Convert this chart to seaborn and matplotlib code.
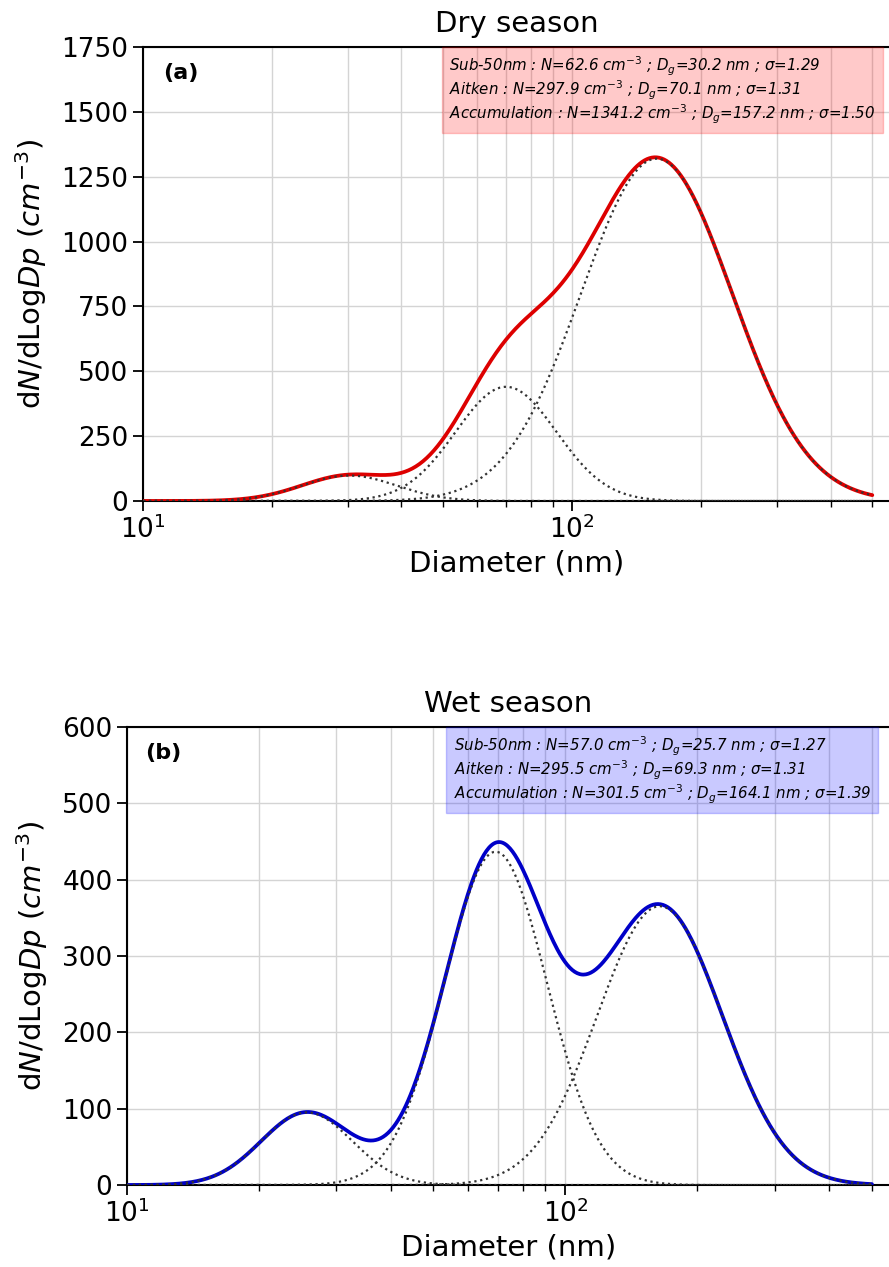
import numpy as np
import matplotlib
matplotlib.use("Agg")
import matplotlib.pyplot as plt
import seaborn as sns

# lognormal mode parameters
MODES = ["Sub-50nm", "Aitken", "Accumulation"]
DRY_N = [62.6, 297.9, 1341.2]
DRY_DG = [30.2, 70.1, 157.2]
DRY_SIGMA = [1.29, 1.31, 1.50]
WET_N = [57.0, 295.5, 301.5]
WET_DG = [25.7, 69.3, 164.1]
WET_SIGMA = [1.27, 1.31, 1.39]

DP_MIN, DP_MAX = 10, 500
DRY_YTICKS = [0, 250, 500, 750, 1000, 1250, 1500, 1750]
WET_YTICKS = [0, 100, 200, 300, 400, 500, 600]


def lognormal(dp, n, dg, sigma):
    ls = np.log(sigma)
    return n / (np.sqrt(2 * np.pi) * ls) * np.exp(-(np.log(dp / dg)) ** 2 / (2 * ls ** 2))


def box_text(ns, dgs, sigmas):
    rows = []
    for name, n, dg, s in zip(MODES, ns, dgs, sigmas):
        rows.append(rf"{name} : N={n:.1f} cm$^{{-3}}$ ; D$_g$={dg:.1f} nm ; $\sigma$={s:.2f}")
    return "\n".join(rows)


def draw_panel(ax, ns, dgs, sigmas, color, box_color, title, tag, yticks, box_x, tag_x):
    dp = np.logspace(np.log10(DP_MIN), np.log10(DP_MAX), 600)
    modes = [lognormal(dp, n, dg, s) for n, dg, s in zip(ns, dgs, sigmas)]
    total = np.sum(modes, axis=0)

    sns.lineplot(x=dp, y=total, ax=ax, color=color, lw=2.7, zorder=3)
    for m in modes:
        sns.lineplot(x=dp, y=m, ax=ax, color="#333333", lw=1.6, ls=":", zorder=4)

    ax.set_xscale("log")
    ax.set_xlim(10, 550)
    ax.set_ylim(yticks[0], yticks[-1])
    ax.set_yticks(yticks)
    ax.grid(True, which="both", axis="x", color="#d4d4d4", lw=1)
    ax.grid(True, which="major", axis="y", color="#d4d4d4", lw=1)
    ax.set_axisbelow(True)
    ax.tick_params(axis="both", which="major", labelsize=19, length=7, width=1.3,
                   direction="out", colors="black")
    ax.tick_params(axis="x", which="minor", length=4, width=1.0, direction="out", colors="black")
    for sp in ["left", "bottom", "top", "right"]:
        ax.spines[sp].set_linewidth(1.5)
        ax.spines[sp].set_color("black")

    ax.set_xlabel("Diameter (nm)", fontsize=21)
    ax.set_ylabel(r"d$N$/dLog$Dp$ ($cm^{-3}$)", fontsize=21, labelpad=9)
    ax.set_title(title, fontsize=21, pad=11)
    ax.text(tag_x, 0.965, tag, transform=ax.transAxes, fontsize=16, fontweight="bold",
            va="top", ha="left")
    ax.text(box_x, 0.983, box_text(ns, dgs, sigmas), transform=ax.transAxes,
            fontsize=10.8, fontstyle="italic", va="top", ha="left", linespacing=1.03,
            zorder=5,
            bbox=dict(boxstyle="square,pad=0.5", facecolor=box_color, alpha=0.21,
                      edgecolor=box_color, lw=1))


def main():
    sns.set_theme(style="ticks")
    plt.rcParams["font.family"] = ["DejaVu Sans"]
    plt.rcParams["mathtext.fontset"] = "dejavusans"
    plt.rcParams["text.color"] = "black"
    plt.rcParams["axes.labelcolor"] = "black"

    fig = plt.figure(figsize=(8.89, 12.67), dpi=100)
    ax1 = fig.add_axes([0.1609, 0.6046, 0.8403, 0.3583])
    ax2 = fig.add_axes([0.1429, 0.0647, 0.8583, 0.3615])

    draw_panel(ax1, DRY_N, DRY_DG, DRY_SIGMA, "#dd0000", "red", "Dry season", "(a)",
               DRY_YTICKS, 0.41, 0.027)
    draw_panel(ax2, WET_N, WET_DG, WET_SIGMA, "#0000c8", "blue", "Wet season", "(b)",
               WET_YTICKS, 0.428, 0.024)

    fig.savefig("out.png", dpi=100)
    plt.close(fig)


if __name__ == "__main__":
    main()
